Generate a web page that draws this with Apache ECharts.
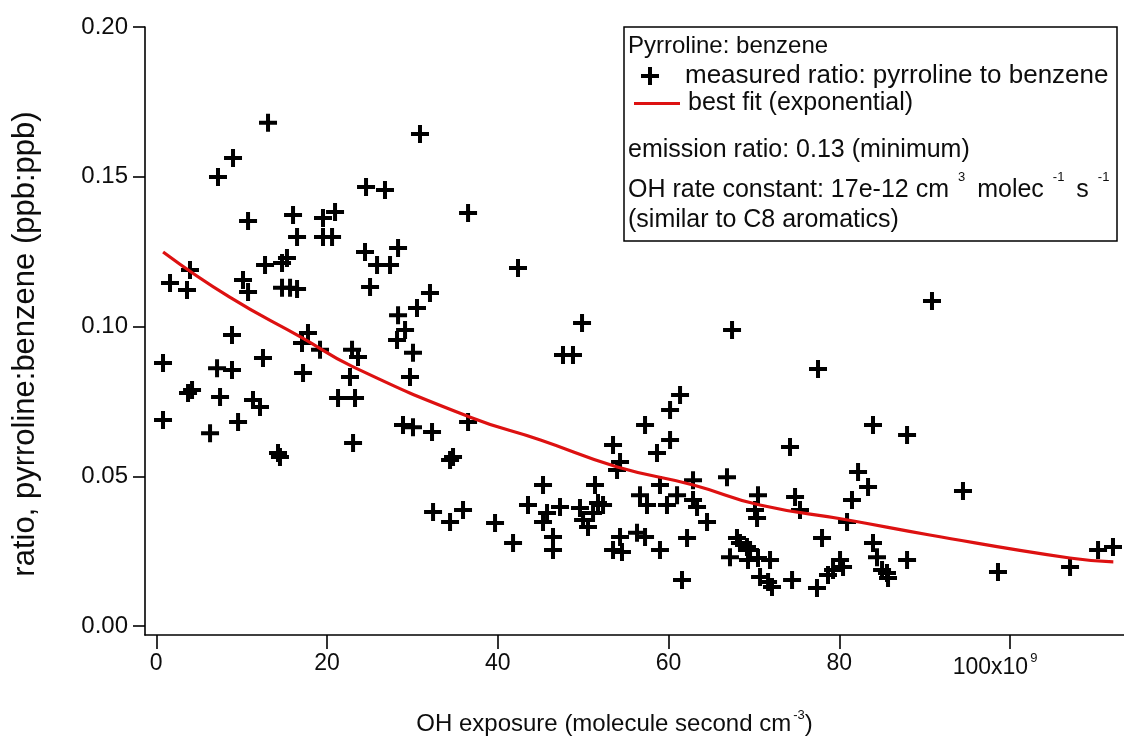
<!DOCTYPE html>
<html><head><meta charset="utf-8">
<script src="https://cdn.jsdelivr.net/npm/echarts@6/dist/echarts.min.js"></script>
<style>html,body{margin:0;padding:0;background:#fff}#c{width:1124px;height:750px}</style>
</head><body><div id="c"></div>
<script>
const ohExposure = [13.09,30.89,8.99,7.23,24.57,26.79,36.52,10.75,16.02,19.53,20.94,16.49,19.53,20.59,24.45,28.32,12.74,14.73,15.31,25.86,27.38,25.04,32.06,30.54,28.32,3.95,1.61,3.60,10.16,10.75,14.73,15.67,16.49,29.14,28.20,8.87,17.77,17.07,19.18,22.93,23.63,0.79,7.12,8.87,12.50,17.19,22.69,30.07,29.72,4.19,3.72,7.47,11.33,12.15,21.29,23.28,0.79,6.30,9.58,14.26,14.49,23.05,28.90,30.07,32.30,34.76,34.41,36.52,42.37,49.87,47.64,48.81,67.44,32.42,34.41,35.93,39.68,41.79,43.54,45.30,45.30,45.77,46.47,46.47,47.29,49.63,49.99,50.57,51.16,51.39,51.74,52.33,53.50,54.32,53.97,53.50,54.32,54.55,56.31,57.25,59.00,57.25,56.66,57.48,59.82,58.65,60.18,60.18,61.35,59.00,61.00,61.58,62.17,62.87,62.87,63.34,64.51,66.85,68.02,67.20,69.19,90.86,77.51,83.95,87.94,74.23,82.20,83.37,81.49,80.91,94.49,70.48,74.82,75.40,70.13,70.37,77.98,68.37,69.55,69.31,70.48,71.89,70.72,71.66,72.12,74.47,77.39,78.68,79.27,80.09,80.44,83.95,84.42,85.01,85.59,85.71,87.94,98.59,107.03,110.31,112.06];
const ratio = [0.1680,0.1643,0.1563,0.1499,0.1466,0.1456,0.1379,0.1352,0.1372,0.1362,0.1382,0.1299,0.1299,0.1299,0.1249,0.1262,0.1205,0.1212,0.1229,0.1205,0.1205,0.1132,0.1112,0.1062,0.1038,0.1189,0.1145,0.1122,0.1155,0.1115,0.1129,0.1129,0.1125,0.0988,0.0955,0.0972,0.0978,0.0945,0.0922,0.0922,0.0898,0.0878,0.0861,0.0855,0.0895,0.0845,0.0831,0.0912,0.0831,0.0788,0.0778,0.0765,0.0755,0.0731,0.0761,0.0761,0.0688,0.0644,0.0681,0.0578,0.0564,0.0611,0.0671,0.0664,0.0648,0.0564,0.0554,0.0681,0.1195,0.1012,0.0905,0.0905,0.0988,0.0381,0.0347,0.0387,0.0344,0.0277,0.0404,0.0471,0.0347,0.0377,0.0297,0.0254,0.0397,0.0394,0.0354,0.0331,0.0377,0.0471,0.0411,0.0404,0.0604,0.0548,0.0521,0.0254,0.0297,0.0247,0.0311,0.0297,0.0254,0.0671,0.0437,0.0404,0.0404,0.0578,0.0621,0.0721,0.0771,0.0471,0.0437,0.0154,0.0294,0.0487,0.0421,0.0397,0.0347,0.0497,0.0294,0.0230,0.0264,0.1085,0.0858,0.0671,0.0638,0.0598,0.0514,0.0464,0.0421,0.0347,0.0451,0.0437,0.0431,0.0387,0.0387,0.0361,0.0294,0.0277,0.0254,0.0220,0.0227,0.0220,0.0164,0.0147,0.0130,0.0154,0.0127,0.0170,0.0187,0.0220,0.0197,0.0277,0.0230,0.0187,0.0177,0.0160,0.0220,0.0180,0.0197,0.0254,0.0264];
const fitExposure = [0.8,8.6,17.1,23.0,36.7,45.0,54.0,62.9,70.7,81.0,90.6,107.0,112.1];
const fitRatio = [0.1249,0.1098,0.0962,0.0866,0.0698,0.0621,0.0531,0.0471,0.0404,0.0354,0.0304,0.0227,0.0214];
const xTicks = [0,20,40,60,80,100];
const yTicks = [0,0.05,0.10,0.15,0.20];
const seriesNames = ['measured ratio: pyrroline to benzene','best fit (exponential)'];
const FONT = '"Liberation Sans", Arial, sans-serif';
const INK = '#0d0d0d';
const crossPath = 'path://M7,0H11V7H18V11H11V18H7V11H0V7H7Z';

const chart = echarts.init(document.getElementById('c'));
chart.setOption({
  animation: false,
  backgroundColor: '#fff',
  grid: {left: 145, top: 27, right: 0, bottom: 115, containLabel: false, outerBoundsMode: 'none'},
  xAxis: {
    type: 'value', min: -1.32, max: 113.35,
    name: 'OH exposure (molecule second cm{s|-3})',
    nameLocation: 'middle', nameGap: 74,
    nameTextStyle: {fontSize: 24, fontFamily: FONT, color: INK, padding: [0, 40, 0, 0],
      rich: {s: {fontSize: 13, fontFamily: FONT, color: INK, padding: [0, 0, 18, 2]}}},
    axisLine: {show: true, onZero: false, lineStyle: {color: '#000', width: 1.6}},
    axisTick: {show: true, customValues: xTicks, length: 14, lineStyle: {color: '#000', width: 1.6}},
    axisLabel: {customValues: xTicks, margin: 17, fontSize: 23, fontFamily: FONT, color: INK,
      formatter: v => v === 100 ? '{a|100x10}{s|9}{p| }' : '{a|' + v + '}',
      rich: {a: {fontSize: 23, fontFamily: FONT, color: INK},
             s: {fontSize: 13, fontFamily: FONT, color: INK, padding: [0, 0, 18, 2]},
             p: {width: 30, fontSize: 23}}},
    splitLine: {show: false}
  },
  yAxis: {
    type: 'value', min: -0.003, max: 0.2,
    name: 'ratio, pyrroline:benzene (ppb:ppb)',
    nameLocation: 'middle', nameGap: 104,
    nameTextStyle: {fontSize: 31, fontFamily: FONT, color: INK, padding: [0, 26, 0, 0]},
    axisLine: {show: true, onZero: false, lineStyle: {color: '#000', width: 1.6}},
    axisTick: {show: true, customValues: yTicks, length: 12, lineStyle: {color: '#000', width: 1.6}},
    axisLabel: {customValues: yTicks, margin: 17, fontSize: 24, fontFamily: FONT, color: INK,
      formatter: v => v.toFixed(2)},
    splitLine: {show: false}
  },
  legend: [
    {data: [{name: seriesNames[0], icon: crossPath}], left: 641, top: 63, padding: 0,
     itemWidth: 18, itemHeight: 18, selectedMode: false,
     textStyle: {fontSize: 26, fontFamily: FONT, color: INK, padding: [0, 0, 0, 21]}},
    {data: [{name: seriesNames[1], icon: 'rect'}], left: 634, top: 91, padding: 0,
     itemWidth: 46, itemHeight: 3, selectedMode: false,
     textStyle: {fontSize: 25, fontFamily: FONT, color: INK, padding: [0, 0, 0, 3]}}
  ],
  graphic: [
    {type: 'rect', shape: {x: 624, y: 27, width: 493, height: 214}, style: {fill: '#fff', stroke: '#000', lineWidth: 1.5}, z: 1},
    {type: 'text', x: 628, y: 46, z: 2, style: {text: 'Pyrroline: benzene', font: '24px ' + FONT, fill: INK, verticalAlign: 'middle'}},
    {type: 'text', x: 628, y: 150, z: 2, style: {text: 'emission ratio: 0.13 (minimum)', font: '25px ' + FONT, fill: INK, verticalAlign: 'middle'}},
    {type: 'text', x: 628, y: 190, z: 2, style: {text: 'OH rate constant: 17e-12 cm{s|3} molec{s|-1} s{s|-1}', font: '25px ' + FONT, fill: INK, verticalAlign: 'middle',
      rich: {s: {fontSize: 13, fontFamily: FONT, fill: INK, padding: [0, 5, 26, 9]}}}},
    {type: 'text', x: 628, y: 220, z: 2, style: {text: '(similar to C8 aromatics)', font: '25px ' + FONT, fill: INK, verticalAlign: 'middle'}}
  ],
  series: [
    {name: seriesNames[0], type: 'scatter', symbol: crossPath, symbolSize: 18,
     itemStyle: {color: '#000', opacity: 1}, z: 3,
     data: ohExposure.map((x, i) => [x, ratio[i]])},
    {name: seriesNames[1], type: 'line', symbol: 'none', smooth: true, z: 4,
     lineStyle: {color: '#dd1111', width: 3.2}, itemStyle: {color: '#dd1111'},
     data: fitExposure.map((x, i) => [x, fitRatio[i]])}
  ]
});
</script></body></html>
